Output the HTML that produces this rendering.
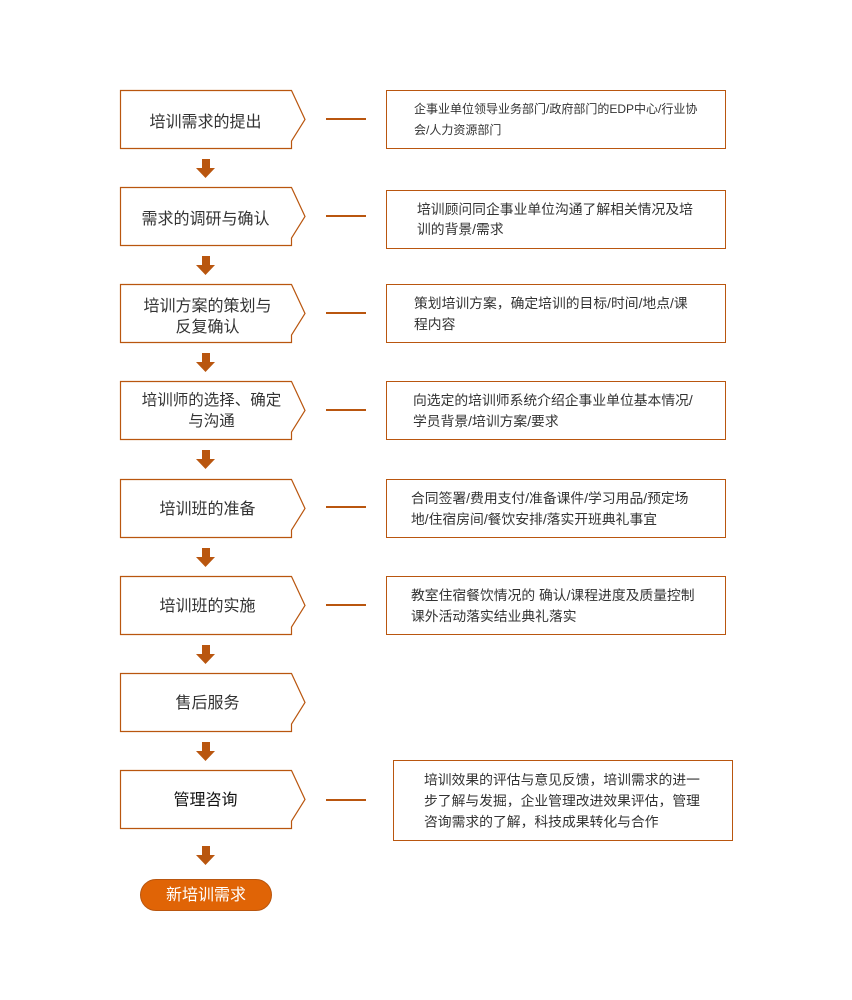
<!DOCTYPE html>
<html><head><meta charset="utf-8"><style>
body{margin:0;width:852px;height:1000px;background:#fff;position:relative;font-family:"Liberation Sans","Noto Sans CJK SC",sans-serif;color:#333;overflow:hidden}
.l{position:absolute;left:120px;width:171px;height:58px;display:flex;align-items:center;justify-content:center;text-align:center;font-size:16px;line-height:21px}
.r{position:absolute;border:1px solid #b9560f;box-sizing:border-box;font-size:13.8px;line-height:21px;white-space:nowrap}
.r span{position:absolute;top:50%;transform:translateY(-50%)}
.d{position:absolute;left:326px;width:40px;height:2px;background:#b9560f}
svg{position:absolute;left:0;top:0}
</style></head><body>
<svg width="852" height="1000">
<g fill="#fff" stroke="#b9560f" stroke-width="1.2">
<path d="M120.5 90.5H291.5L305 119.5L291.5 141V148.5H120.5Z"/>
<path d="M120.5 187.5H291.5L305 216.5L291.5 238V245.5H120.5Z"/>
<path d="M120.5 284.5H291.5L305 313.5L291.5 335V342.5H120.5Z"/>
<path d="M120.5 381.5H291.5L305 410.5L291.5 432V439.5H120.5Z"/>
<path d="M120.5 479.5H291.5L305 508.5L291.5 530V537.5H120.5Z"/>
<path d="M120.5 576.5H291.5L305 605.5L291.5 627V634.5H120.5Z"/>
<path d="M120.5 673.5H291.5L305 702.5L291.5 724V731.5H120.5Z"/>
<path d="M120.5 770.5H291.5L305 799.5L291.5 821V828.5H120.5Z"/>
</g>
<g fill="#b9560f">
<path d="M202 159h8v9h5l-9.5 10l-9.5-10h6z"/>
<path d="M202 256h8v9h5l-9.5 10l-9.5-10h6z"/>
<path d="M202 353h8v9h5l-9.5 10l-9.5-10h6z"/>
<path d="M202 450h8v9h5l-9.5 10l-9.5-10h6z"/>
<path d="M202 548h8v9h5l-9.5 10l-9.5-10h6z"/>
<path d="M202 645h8v9h5l-9.5 10l-9.5-10h6z"/>
<path d="M202 742h8v9h5l-9.5 10l-9.5-10h6z"/>
<path d="M202 846h8v9h5l-9.5 10l-9.5-10h6z"/>
</g>
<rect x="140.5" y="879.5" width="131" height="31" rx="15.5" fill="#e06406" stroke="#b9560f"/>
</svg>
<div class="l" style="top:93px">培训需求的提出</div>
<div class="l" style="top:190px">需求的调研与确认</div>
<div class="l" style="top:288px;left:122px">培训方案的策划与<br>反复确认</div>
<div class="l" style="top:382px;left:126px;font-size:15.5px">培训师的选择、确定<br>与沟通</div>
<div class="l" style="top:480px;left:122px">培训班的准备</div>
<div class="l" style="top:577px;left:122px">培训班的实施</div>
<div class="l" style="top:674px;left:122px">售后服务</div>
<div class="l" style="top:771px;color:#111">管理咨询</div>
<div class="l" style="top:866px;left:140px;width:132px;color:#fff">新培训需求</div>
<div class="d" style="top:118px"></div><div class="d" style="top:215px"></div><div class="d" style="top:312px"></div><div class="d" style="top:409px"></div><div class="d" style="top:506px"></div><div class="d" style="top:604px"></div><div class="d" style="top:799px"></div>
<div class="r" style="left:386px;top:90px;width:340px;height:59px;font-size:12px"><span style="left:27px">企事业单位领导业务部门/政府部门的EDP中心/行业协<br>会/人力资源部门</span></div>
<div class="r" style="left:386px;top:190px;width:340px;height:59px;line-height:20px"><span style="left:30px">培训顾问同企事业单位沟通了解相关情况及培<br>训的背景/需求</span></div>
<div class="r" style="left:386px;top:284px;width:340px;height:59px"><span style="left:27px">策划培训方案，确定培训的目标/时间/地点/课<br>程内容</span></div>
<div class="r" style="left:386px;top:381px;width:340px;height:59px"><span style="left:26px">向选定的培训师系统介绍企事业单位基本情况/<br>学员背景/培训方案/要求</span></div>
<div class="r" style="left:386px;top:479px;width:340px;height:59px"><span style="left:24px">合同签署/费用支付/准备课件/学习用品/预定场<br>地/住宿房间/餐饮安排/落实开班典礼事宜</span></div>
<div class="r" style="left:386px;top:576px;width:340px;height:59px"><span style="left:24px">教室住宿餐饮情况的 确认/课程进度及质量控制<br>课外活动落实结业典礼落实</span></div>
<div class="r" style="left:393px;top:760px;width:340px;height:81px"><span style="left:30px">培训效果的评估与意见反馈，培训需求的进一<br>步了解与发掘，企业管理改进效果评估，管理<br>咨询需求的了解，科技成果转化与合作</span></div>
</body></html>
